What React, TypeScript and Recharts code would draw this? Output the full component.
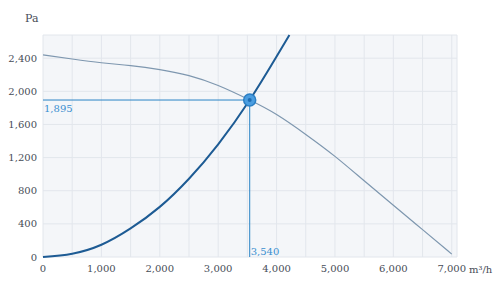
import React from "react";
import {
  LineChart,
  Line,
  XAxis,
  YAxis,
  CartesianGrid,
  ReferenceLine,
  ReferenceDot,
  Label,
} from "recharts";

// fan curve: airflow (m³/h) vs pressure (Pa)
const FAN_Q = [0, 500, 1000, 1500, 2000, 2500, 3000, 3540, 4000, 4500, 5000, 5500, 6000, 6500, 7000];
const FAN_P = [2440, 2390, 2345, 2310, 2262, 2190, 2070, 1895, 1720, 1480, 1215, 920, 625, 330, 35];

// system curve
const SYS_Q = [0, 500, 1000, 1500, 2000, 2500, 3000, 3540, 4000, 4220];
const SYS_P = [0, 40, 148, 345, 605, 945, 1360, 1895, 2420, 2680];

const OP_Q = 3540;
const OP_P = 1895;

const X_TICKS = [0, 500, 1000, 1500, 2000, 2500, 3000, 3500, 4000, 4500, 5000, 5500, 6000, 6500, 7000];
const Y_TICKS = [0, 400, 800, 1200, 1600, 2000, 2400];

const fanData = FAN_Q.map((q, i) => ({ q, p: FAN_P[i] }));
const sysData = SYS_Q.map((q, i) => ({ q, p: SYS_P[i] }));

const FONT = "DejaVu Serif";
const TICK_COLOR = "#474d57";
const LINE_BLUE = "#2a84c6";
const fmt = (v: number) => v.toLocaleString("en-US");

export default function App() {
  return (
    <div style={{ position: "fixed", left: 0, top: 0, background: "#fff" }}>
      <LineChart width={500} height={295} margin={{ top: 35, right: 43, bottom: 0, left: 0 }}>
        <CartesianGrid stroke="#e2e6ec" fill="#f4f6f9" />
        <XAxis
          type="number"
          dataKey="q"
          domain={[0, 7090]}
          ticks={X_TICKS}
          interval={0}
          height={38}
          tickLine={false}
          axisLine={false}
          tickSize={6}
          tickMargin={2}
          tick={{ fill: TICK_COLOR, fontSize: 10, fontFamily: FONT }}
          tickFormatter={(v: number) => (v % 1000 === 0 ? fmt(v) : "")}
        >
          <Label
            content={({ viewBox }: any) => (
              <text x={viewBox.x + viewBox.width + 12} y={viewBox.y + 16} fill={TICK_COLOR} fontSize={10} fontFamily={FONT}>
                m³/h
              </text>
            )}
          />
        </XAxis>
        <YAxis
          type="number"
          dataKey="p"
          domain={[0, 2680]}
          ticks={Y_TICKS}
          interval={0}
          width={43}
          tickLine={false}
          axisLine={false}
          tickSize={4}
          tickMargin={2}
          tick={{ fill: TICK_COLOR, fontSize: 10, fontFamily: FONT }}
          tickFormatter={fmt}
        >
          <Label
            content={({ viewBox }: any) => (
              <text x={viewBox.x + 25} y={viewBox.y - 13} fill={TICK_COLOR} fontSize={11} fontFamily={FONT}>
                Pa
              </text>
            )}
          />
        </YAxis>
        <Line
          data={fanData}
          dataKey="p"
          type="natural"
          stroke="#7e97af"
          strokeWidth={1.2}
          dot={false}
          isAnimationActive={false}
        />
        <Line
          data={sysData}
          dataKey="p"
          type="natural"
          stroke="#1d5b94"
          strokeWidth={2}
          dot={false}
          isAnimationActive={false}
        />
        <ReferenceLine
          segment={[{ x: 0, y: OP_P }, { x: OP_Q, y: OP_P }]}
          stroke={LINE_BLUE}
          strokeWidth={1}
          label={{
            content: ({ viewBox }: any) => (
              <text x={viewBox.x + 1} y={viewBox.y + 12} fill="#3a8fd0" fontSize={10} fontFamily={FONT}>
                {fmt(OP_P)}
              </text>
            ),
          }}
        />
        <ReferenceLine
          segment={[{ x: OP_Q, y: 0 }, { x: OP_Q, y: OP_P }]}
          stroke={LINE_BLUE}
          strokeWidth={1}
          label={{
            content: ({ viewBox }: any) => (
              <text x={viewBox.x + 1} y={viewBox.y + viewBox.height - 2} fill="#3a8fd0" fontSize={10} fontFamily={FONT}>
                {fmt(OP_Q)}
              </text>
            ),
          }}
        />
        <ReferenceDot x={OP_Q} y={OP_P} r={6} fill="#4a9de0" stroke="#2b7fc4" strokeWidth={1.5} />
        <ReferenceDot x={OP_Q} y={OP_P} r={2} fill="#1f6db3" stroke="none" />
      </LineChart>
    </div>
  );
}
